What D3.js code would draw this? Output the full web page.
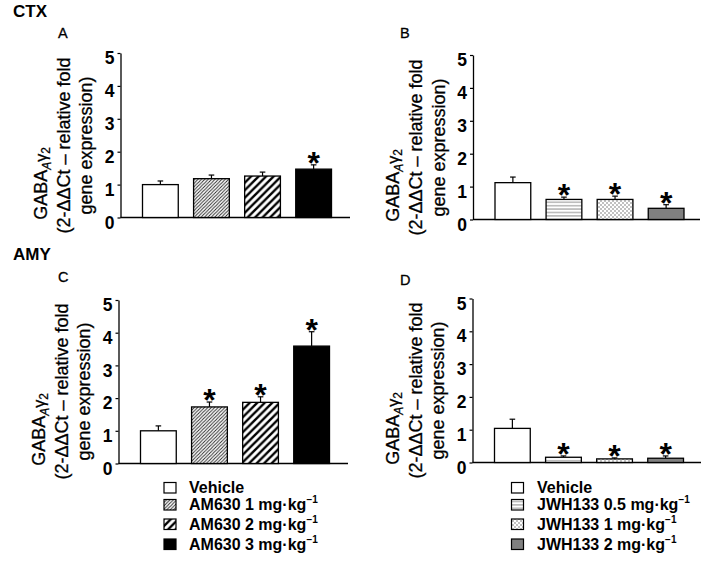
<!DOCTYPE html>
<html><head><meta charset="utf-8">
<script src="https://cdn.jsdelivr.net/npm/d3@7"></script>
<style>
body{margin:0;background:#fff;}
svg{display:block;font-family:"Liberation Sans",Arial,sans-serif;}
</style></head>
<body><svg id="c" width="708" height="561"></svg>
<script>
// ---- data ----
const groups = ["Vehicle", "Dose 1", "Dose 2", "Dose 3"];
const yTicks = [0, 1, 2, 3, 4, 5];
// CTX, AM630 (panel A)
const valuesA = [1.00, 1.18, 1.26, 1.47];
const errA    = [0.11, 0.11, 0.12, 0.13];
const sigA    = [false, false, false, true];
// CTX, JWH133 (panel B)
const valuesB = [1.12, 0.61, 0.61, 0.34];
const errB    = [0.17, 0.07, 0.10, 0.11];
const sigB    = [false, true, true, true];
// AMY, AM630 (panel C)
const valuesC = [1.00, 1.73, 1.87, 3.59];
const errC    = [0.15, 0.15, 0.17, 0.44];
const sigC    = [false, true, true, true];
// AMY, JWH133 (panel D)
const valuesD = [1.04, 0.16, 0.11, 0.13];
const errD    = [0.28, 0.04, 0.03, 0.07];
const sigD    = [false, true, true, true];
// legends
const legendAM  = [["Vehicle",""], ["AM630 1 mg·kg","−1"], ["AM630 2 mg·kg","−1"], ["AM630 3 mg·kg","−1"]];
const legendJWH = [["Vehicle",""], ["JWH133 0.5 mg·kg","−1"], ["JWH133 1 mg·kg","−1"], ["JWH133 2 mg·kg","−1"]];
const fillsAM  = ["#fff", "url(#fineDiag)", "url(#thickDiag)", "#000"];
const fillsJWH = ["#fff", "url(#hLines)", "url(#dots)", "#808080"];

const svg = d3.select("#c");
const defs = svg.append("defs");

// patterns
const p1 = defs.append("pattern").attr("id","fineDiag").attr("patternUnits","userSpaceOnUse")
  .attr("width",3.4).attr("height",3.4);
p1.append("rect").attr("width",3.4).attr("height",3.4).attr("fill","#fff");
p1.append("path").attr("d","M-0.85,0.85 L0.85,-0.85 M0,3.4 L3.4,0 M2.55,4.25 L4.25,2.55")
  .attr("stroke","#222").attr("stroke-width",0.9);
const p2 = defs.append("pattern").attr("id","thickDiag").attr("patternUnits","userSpaceOnUse")
  .attr("width",7.5).attr("height",7.5);
p2.append("rect").attr("width",7.5).attr("height",7.5).attr("fill","#fff");
p2.append("path").attr("d","M-1.875,1.875 L1.875,-1.875 M0,7.5 L7.5,0 M5.625,9.375 L9.375,5.625")
  .attr("stroke","#000").attr("stroke-width",2.4);
const p3 = defs.append("pattern").attr("id","hLines").attr("patternUnits","userSpaceOnUse")
  .attr("width",4).attr("height",3.4);
p3.append("rect").attr("width",4).attr("height",3.4).attr("fill","#fff");
p3.append("line").attr("x1",0).attr("x2",4).attr("y1",1.7).attr("y2",1.7)
  .attr("stroke","#666").attr("stroke-width",0.8);
const p4 = defs.append("pattern").attr("id","dots").attr("patternUnits","userSpaceOnUse")
  .attr("width",4).attr("height",4);
p4.append("rect").attr("width",4).attr("height",4).attr("fill","#fff");
p4.append("circle").attr("cx",1).attr("cy",1).attr("r",0.7).attr("fill","#555");
p4.append("circle").attr("cx",3).attr("cy",3).attr("r",0.7).attr("fill","#555");

const panels = [
  {letter:"A", lx:58,  ly:38,  x0:120.5, yTop:53,   y0:217.5, xEnd:350, v:valuesA, e:errA, s:sigA, f:fillsAM},
  {letter:"B", lx:400, ly:38,  x0:473,   yTop:55,   y0:219.5, xEnd:700, v:valuesB, e:errB, s:sigB, f:fillsJWH},
  {letter:"C", lx:58,  ly:282, x0:118.5, yTop:300,  y0:463.5, xEnd:348, v:valuesC, e:errC, s:sigC, f:fillsAM},
  {letter:"D", lx:400, ly:285, x0:472.5, yTop:298.5,y0:462.5, xEnd:701, v:valuesD, e:errD, s:sigD, f:fillsJWH}
];

// region titles
svg.append("text").attr("x",13).attr("y",17).attr("font-size",17).attr("font-weight","bold").text("CTX");
svg.append("text").attr("x",13).attr("y",260).attr("font-size",17).attr("font-weight","bold").text("AMY");

panels.forEach(p => {
  const y = d3.scaleLinear().domain([0,5]).range([p.y0, p.yTop]);
  const x = d3.scaleBand().domain(groups).range([p.x0+22, p.x0+211]).paddingInner(0.3).paddingOuter(0);
  const g = svg.append("g");

  svg.append("text").attr("x",p.lx).attr("y",p.ly).attr("font-size",14.5)
    .attr("stroke","#000").attr("stroke-width",0.3).text(p.letter);

  // y axis
  const ax = g.append("g").attr("transform",`translate(${p.x0},0)`)
    .call(d3.axisLeft(y).tickValues(yTicks).tickFormat(d3.format("d")).tickSize(3).tickSizeOuter(0));
  ax.select(".domain").attr("stroke","#000").attr("stroke-width",1.3);
  ax.selectAll(".tick line").attr("stroke","#000").attr("stroke-width",1.2);
  ax.selectAll(".tick text").attr("font-size",17.5).attr("font-weight","bold")
    .attr("font-family","Liberation Sans, Arial, sans-serif").attr("fill","#000")
    .attr("x",-6).attr("transform","translate(0,5)");

  // x axis line
  g.append("line").attr("x1",p.x0).attr("x2",p.xEnd).attr("y1",p.y0).attr("y2",p.y0)
    .attr("stroke","#000").attr("stroke-width",1.3);

  // y label
  const lab = g.append("g").attr("stroke","#000").attr("stroke-width",0.3);
  const t1 = lab.append("text").attr("transform",`translate(${p.x0-74},${p.y0-34}) rotate(-90)`)
    .attr("text-anchor","middle").attr("font-size",18);
  t1.append("tspan").text("GABA");
  t1.append("tspan").attr("font-size",12).attr("font-style","italic").attr("dy",4).text("A");
  t1.append("tspan").attr("font-size",16).attr("dy",-4).text("γ");
  t1.append("tspan").attr("font-size",12).attr("dy",3).text("2");
  lab.append("text").attr("transform",`translate(${p.x0-51},${p.y0-72}) rotate(-90)`)
    .attr("text-anchor","middle").attr("font-size",18).text("(2-ΔΔCt – relative fold");
  lab.append("text").attr("transform",`translate(${p.x0-28.5},${p.y0-72}) rotate(-90)`)
    .attr("text-anchor","middle").attr("font-size",18).text("gene expression)");

  const data = groups.map((k,i) => ({k, v:p.v[i], e:p.e[i], s:p.s[i], f:p.f[i]}));

  // error bars (upper only)
  const eb = g.selectAll(".eb").data(data).enter().append("g");
  eb.append("line").attr("x1",d=>x(d.k)+x.bandwidth()/2).attr("x2",d=>x(d.k)+x.bandwidth()/2)
    .attr("y1",d=>y(d.v)).attr("y2",d=>y(d.v+d.e)).attr("stroke","#000").attr("stroke-width",1.2);
  eb.append("line").attr("x1",d=>x(d.k)+x.bandwidth()/2-2.8).attr("x2",d=>x(d.k)+x.bandwidth()/2+2.8)
    .attr("y1",d=>y(d.v+d.e)).attr("y2",d=>y(d.v+d.e)).attr("stroke","#000").attr("stroke-width",1.2);

  // bars
  g.selectAll(".bar").data(data).enter().append("rect")
    .attr("x",d=>x(d.k)).attr("width",x.bandwidth())
    .attr("y",d=>y(d.v)).attr("height",d=>p.y0-y(d.v))
    .attr("fill",d=>d.f).attr("stroke","#000").attr("stroke-width",1.3);

  // significance stars
  g.selectAll(".star").data(data.filter(d=>d.s)).enter().append("text")
    .attr("x",d=>x(d.k)+x.bandwidth()/2).attr("y",d=>y(d.v+d.e)+9)
    .attr("text-anchor","middle").attr("font-size",32).attr("font-weight","bold").text("*");
});

// legends
function legend(items, fills, bx, tx) {
  const baselines = [493, 510, 529.5, 549.5];
  items.forEach((it,i) => {
    svg.append("rect").attr("x",bx).attr("y",baselines[i]-10.5).attr("width",12).attr("height",10.5)
      .attr("fill",fills[i]).attr("stroke","#000").attr("stroke-width",1.2);
    const t = svg.append("text").attr("x",tx).attr("y",baselines[i]).attr("font-size",16).attr("font-weight","bold");
    t.append("tspan").text(it[0]);
    if (it[1]) t.append("tspan").attr("font-size",10).attr("dy",-7).text(it[1]);
  });
}
legend(legendAM, fillsAM, 164, 189);
legend(legendJWH, fillsJWH, 511.5, 537);
</script></body></html>
